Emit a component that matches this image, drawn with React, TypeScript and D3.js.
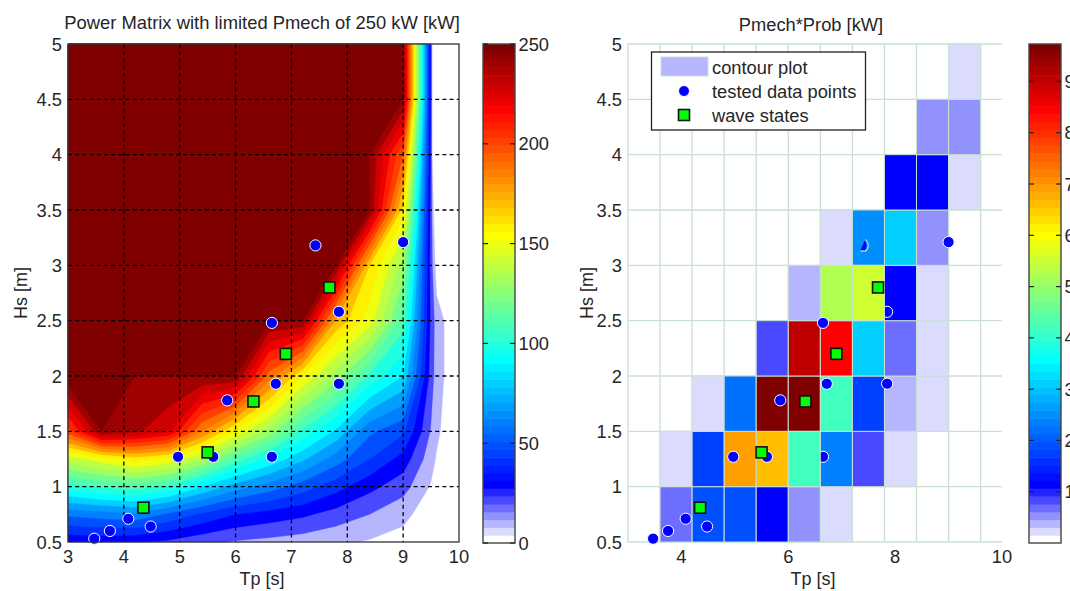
import React, { useMemo } from "react";
import * as d3 from "d3";

const tpGrid = [3, 3.6, 4.2, 4.8, 5.4, 6, 6.6, 7.2, 7.8, 8.4, 9, 9.5, 9.6, 10];
const hsGrid = [0.5, 0.75, 1, 1.25, 1.5, 2, 2.5, 3, 3.5, 4, 4.5, 5];
const power = [
  [32, 33, 31, 28, 23, 19, 17, 15, 12, 9, 6, 0, 0, 0],
  [62, 65, 68, 58, 48, 40, 36, 32, 26, 20, 13, 4, 0, 0],
  [105, 112, 115, 108, 90, 75, 65, 55, 44, 33, 24, 9, 4, 0],
  [145, 155, 165, 158, 140, 115, 98, 82, 65, 50, 36, 14, 9, 0],
  [205, 250, 242, 232, 190, 158, 135, 108, 88, 62, 52, 19, 12, 0],
  [260, 260, 250, 250, 250, 250, 195, 160, 135, 108, 90, 25, 15, 0],
  [260, 260, 260, 260, 260, 260, 252, 250, 178, 155, 115, 27, 15, 0],
  [260, 260, 260, 260, 260, 260, 260, 260, 250, 170, 135, 25, 4, 0],
  [260, 260, 260, 260, 260, 260, 260, 260, 260, 250, 165, 25, -10, 0],
  [260, 260, 260, 260, 260, 260, 260, 260, 260, 250, 200, 27, -60, 0],
  [260, 260, 260, 260, 260, 260, 260, 260, 260, 260, 250, 27, -60, 0],
  [260, 260, 260, 260, 260, 260, 260, 260, 260, 260, 250, 27, -60, 0],
];

const probTp = [3, 3.6, 4.2, 4.8, 5.4, 6, 6.6, 7.2, 7.8, 8.4, 9, 9.6, 10];
const probHs = [0.5, 1, 1.5, 2, 2.5, 3, 3.5, 4, 4.5, 5];
const pmechProb = [
  [0, 0.68, 1.9, 1.9, 1.14, 0.53, 0.23, 0, 0, 0, 0, 0],
  [0, 0.23, 1.75, 6.92, 6.61, 4.18, 2.36, 0.84, 0.23, 0, 0, 0],
  [0, 0, 0.23, 2.2, 9.65, 9.65, 4.18, 1.75, 0.38, 0.23, 0, 0],
  [0, 0, 0, 0, 0.84, 9.05, 8.44, 3.12, 0.68, 0.23, 0, 0],
  [0, 0, 0, 0, 0, 0.38, 5.24, 5.55, 1.14, 0.23, 0, 0],
  [0, 0, 0, 0, 0, 0, 0.23, 2.51, 3.12, 0.53, 0, 0],
  [0, 0, 0, 0, 0, 0, 0, 0, 1.14, 1.14, 0.23, 0],
  [0, 0, 0, 0, 0, 0, 0, 0, 0, 0.53, 0.53, 0],
  [0, 0, 0, 0, 0, 0, 0, 0, 0, 0, 0.23, 0],
];
// cells that lie over part of a tested point in the right-hand panel: [row, column]
const overlayCells = [[4, 7], [1, 5]];

const testedTp = [3.47, 3.75, 4.08, 4.48, 4.97, 5.6, 6.65, 5.85, 6.72, 7.85, 6.65, 7.85, 9];
const testedHs = [0.53, 0.6, 0.71, 0.64, 1.27, 1.27, 1.27, 1.78, 1.93, 1.93, 2.48, 2.58, 3.21];
const hiddenTp = 7.43;
const hiddenHs = 3.18;
const waveTp = [4.35, 5.5, 6.32, 6.9, 7.68];
const waveHs = [0.81, 1.31, 1.77, 2.2, 2.8];

const hsTicks = [0.5, 1, 1.5, 2, 2.5, 3, 3.5, 4, 4.5, 5];
const leftTpTicks = [3, 4, 5, 6, 7, 8, 9, 10];
const rightTpTicks = [4, 6, 8, 10];
const leftBarTicks = [0, 50, 100, 150, 200, 250];
const rightBarTicks = [1, 2, 3, 4, 5, 6, 7, 8, 9];
const levels = d3.range(10, 251, 10);
const RIGHT_MAX = 9.73;

const FONT = "'Liberation Sans', Arial, sans-serif";
const INK = "#262626";
const GRID = "#c9e0d2";

function cmap(i: number): string {
  if (i < 7) {
    const c = Math.round(255 * (1 - i / 7));
    return `rgb(${c},${c},255)`;
  }
  const n = i + 1; // 1-based jet(64)
  const r = n <= 24 ? 0 : n <= 40 ? (n - 24) / 16 : n <= 56 ? 1 : 1 - (n - 56) / 16;
  const g = n <= 8 ? 0 : n <= 24 ? (n - 8) / 16 : n <= 40 ? 1 : n <= 56 ? 1 - (n - 40) / 16 : 0;
  const b = n <= 24 ? 1 : n <= 40 ? 1 - (n - 24) / 16 : 0;
  return `rgb(${Math.round(r * 255)},${Math.round(g * 255)},${Math.round(b * 255)})`;
}

const yScale = d3.scaleLinear().domain([0.5, 5]).range([542, 44]);
const xLeft = d3.scaleLinear().domain([3, 10]).range([68, 459]);
const xRight = d3.scaleLinear().domain([3, 10]).range([628, 1002]);
const colorIndex = d3.scaleQuantize<number>().domain([0, RIGHT_MAX]).range(d3.range(64));

function Dots({ x }: { x: d3.ScaleLinear<number, number> }) {
  return (
    <g>
      {testedTp.map((t, i) => (
        <circle key={i} cx={x(t)} cy={yScale(testedHs[i])} r={5.6} fill="#0000ff" stroke="#fff" strokeWidth={1} />
      ))}
    </g>
  );
}

function Squares({ x }: { x: d3.ScaleLinear<number, number> }) {
  return (
    <g>
      {waveTp.map((t, i) => (
        <rect key={i} x={x(t) - 5.5} y={yScale(waveHs[i]) - 5.5} width={11} height={11} fill="#00ff00" stroke="#111" strokeWidth={1.6} />
      ))}
    </g>
  );
}

function Cell({ r, c }: { r: number; c: number }) {
  return (
    <rect
      x={xRight(probTp[c])}
      y={yScale(probHs[r + 1])}
      width={xRight(probTp[c + 1]) - xRight(probTp[c])}
      height={yScale(probHs[r]) - yScale(probHs[r + 1])}
      fill={cmap(colorIndex(pmechProb[r][c]))}
      stroke={GRID}
      strokeWidth={1}
    />
  );
}

function ColorBar({ x0, x1, max, ticks }: { x0: number; x1: number; max: number; ticks: number[] }) {
  const top = 44;
  const bottom = 543;
  const y = d3.scaleLinear().domain([0, max]).range([bottom, top]);
  const idx = d3.range(64);
  const h = (bottom - top) / 64;
  return (
    <g>
      {idx.map((i) => (
        <rect key={i} x={x0} width={x1 - x0} y={bottom - (i + 1) * h} height={h + 0.5} fill={cmap(i)} />
      ))}
      <rect x={x0} y={top} width={x1 - x0} height={bottom - top} fill="none" stroke="#444" strokeWidth={1.4} />
      {ticks.map((t) => (
        <g key={t}>
          <line x1={x0} x2={x0 + 5} y1={y(t)} y2={y(t)} stroke="#222" strokeWidth={1.2} />
          <line x1={x1 - 5} x2={x1} y1={y(t)} y2={y(t)} stroke="#222" strokeWidth={1.2} />
          <text x={x1 + 3.5} y={y(t)} dy="0.36em" fontSize={18.3} fill={INK} fontFamily={FONT}>{t}</text>
        </g>
      ))}
    </g>
  );
}

function LeftPlot() {
  const bands = useMemo(() => {
    const n = tpGrid.length;
    const m = hsGrid.length;
    const flat = power.flat();
    const cs = d3.contours().size([n, m]).thresholds(levels)(flat);
    const tpOf = d3.scaleLinear().domain(d3.range(n).map((i) => i + 0.5)).range(tpGrid).clamp(true);
    const hsOf = d3.scaleLinear().domain(d3.range(m).map((i) => i + 0.5)).range(hsGrid).clamp(true);
    const path = d3.geoPath(
      d3.geoTransform({
        point(px: number, py: number) {
          (this as any).stream.point(xLeft(tpOf(px)), yScale(hsOf(py)));
        },
      })
    );
    return cs.map((c) => ({ level: c.value, d: path(c as any) || "" }));
  }, []);
  const dash = "4 3.2";
  return (
    <g>
      <rect x={68} y={44} width={391} height={498} fill="#fff" />
      {bands.map((b) => {
        const col = cmap(Math.min(63, Math.floor((b.level / 250) * 64)));
        return <path key={b.level} d={b.d} fill={col} stroke={col} strokeWidth={0.3} />;
      })}
      {leftTpTicks.slice(1, -1).map((t) => (
        <line key={t} x1={xLeft(t)} x2={xLeft(t)} y1={44} y2={542} stroke="#000" strokeWidth={1.3} strokeDasharray={dash} />
      ))}
      {hsTicks.slice(1, -1).map((t) => (
        <line key={t} x1={68} x2={459} y1={yScale(t)} y2={yScale(t)} stroke="#000" strokeWidth={1.3} strokeDasharray={dash} />
      ))}
      <Dots x={xLeft} />
      <circle cx={xLeft(hiddenTp)} cy={yScale(hiddenHs)} r={5.6} fill="#0000ff" stroke="#fff" strokeWidth={1} />
      <Squares x={xLeft} />
      <rect x={68} y={44} width={391} height={498} fill="none" stroke="#333" strokeWidth={1.3} />
      {hsTicks.map((t) => (
        <text key={t} x={62} y={yScale(t)} dy="0.36em" textAnchor="end" fontSize={18.3} fill={INK} fontFamily={FONT}>{t}</text>
      ))}
      {leftTpTicks.map((t) => (
        <text key={t} x={xLeft(t)} y={563} textAnchor="middle" fontSize={18.3} fill={INK} fontFamily={FONT}>{t}</text>
      ))}
      <text x={262} y={585} textAnchor="middle" fontSize={18} fill={INK} fontFamily={FONT}>Tp [s]</text>
      <text transform="translate(27,293) rotate(-90)" textAnchor="middle" fontSize={18} fill={INK} fontFamily={FONT}>Hs [m]</text>
      <text x={262} y={29} textAnchor="middle" fontSize={18.4} fill={INK} fontFamily={FONT}>Power Matrix with limited Pmech of 250 kW [kW]</text>
    </g>
  );
}

function RightPlot() {
  const cells = pmechProb.flatMap((row, r) =>
    row.map((v, c) => ({ v, r, c })).filter((d) => d.v > 0)
  );
  const hx = xRight(hiddenTp);
  const hy = yScale(hiddenHs);
  return (
    <g>
      {probTp.slice(0, -1).map((t) => (
        <line key={t} x1={xRight(t)} x2={xRight(t)} y1={44} y2={542} stroke={GRID} strokeWidth={1.3} />
      ))}
      {hsTicks.map((t) => (
        <line key={t} x1={628} x2={1002} y1={yScale(t)} y2={yScale(t)} stroke={GRID} strokeWidth={1.3} />
      ))}
      {cells.map((d) => (
        <Cell key={`${d.r}-${d.c}`} r={d.r} c={d.c} />
      ))}
      <Dots x={xRight} />
      {overlayCells.map(([r, c]) => (
        <Cell key={`o${r}-${c}`} r={r} c={c} />
      ))}
      <path
        d={`M${hx},${hy - 5} Q${hx + 3.5},${hy} ${hx},${hy + 5} L${hx - 4},${hy + 4.5} Z`}
        fill="#0000ff"
      />
      <path
        d={`M${hx + 1},${hy - 6} Q${hx + 6},${hy} ${hx + 1.5},${hy + 5.5} L${hx - 4},${hy + 5.8}`}
        fill="none"
        stroke="#fff"
        strokeWidth={0.9}
      />
      <Squares x={xRight} />
      {hsTicks.map((t) => (
        <text key={t} x={622} y={yScale(t)} dy="0.36em" textAnchor="end" fontSize={18.3} fill={INK} fontFamily={FONT}>{t}</text>
      ))}
      {rightTpTicks.map((t) => (
        <text key={t} x={xRight(t)} y={563} textAnchor="middle" fontSize={18.3} fill={INK} fontFamily={FONT}>{t}</text>
      ))}
      <text x={813} y={585} textAnchor="middle" fontSize={18} fill={INK} fontFamily={FONT}>Tp [s]</text>
      <text transform="translate(593,293) rotate(-90)" textAnchor="middle" fontSize={18} fill={INK} fontFamily={FONT}>Hs [m]</text>
      <text x={811} y={31} textAnchor="middle" fontSize={18.3} fill={INK} fontFamily={FONT}>Pmech*Prob [kW]</text>
      <rect x={651.5} y={52} width={214} height={78} fill="#fff" stroke="#222" strokeWidth={1.3} />
      <rect x={661} y={57} width={47} height={19} fill={cmap(2)} stroke={GRID} />
      <text x={712} y={73.5} fontSize={18.3} fill={INK} fontFamily={FONT}>contour plot</text>
      <circle cx={684} cy={91} r={5.5} fill="#0000ff" stroke="#fff" />
      <text x={712} y={98} fontSize={18.3} fill={INK} fontFamily={FONT}>tested data points</text>
      <rect x={678.5} y={109.5} width={11} height={11} fill="#00ff00" stroke="#111" strokeWidth={1.6} />
      <text x={712} y={122} fontSize={18.3} fill={INK} fontFamily={FONT}>wave states</text>
    </g>
  );
}

export default function App() {
  return (
    <svg width={1070} height={591} viewBox="0 0 1070 591" style={{ position: "absolute", left: 0, top: 0 }}>
      <rect width={1070} height={591} fill="#fff" />
      <LeftPlot />
      <ColorBar x0={483} x1={515} max={250} ticks={leftBarTicks} />
      <RightPlot />
      <ColorBar x0={1029} x1={1061} max={RIGHT_MAX} ticks={rightBarTicks} />
    </svg>
  );
}
